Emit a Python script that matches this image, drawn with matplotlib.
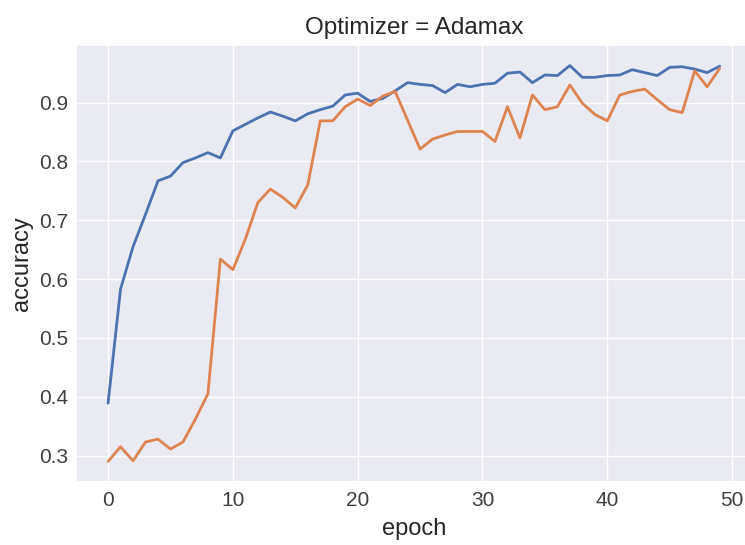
import numpy as np
import matplotlib
matplotlib.use('Agg')
import matplotlib.pyplot as plt

plt.style.use('seaborn-v0_8')
plt.rcParams['font.family'] = ['Liberation Sans', 'DejaVu Sans']

epochs = list(range(50))

acc = [0.389, 0.583, 0.655, 0.710, 0.767, 0.775, 0.798, 0.806, 0.815, 0.806,
       0.852, 0.863, 0.874, 0.884, 0.877, 0.869, 0.881, 0.888, 0.894, 0.913,
       0.916, 0.902, 0.907, 0.920, 0.934, 0.931, 0.929, 0.917, 0.931, 0.927,
       0.931, 0.933, 0.950, 0.952, 0.934, 0.947, 0.946, 0.963, 0.943, 0.943,
       0.946, 0.947, 0.956, 0.951, 0.946, 0.960, 0.961, 0.957, 0.951, 0.962]

val_acc = [0.290, 0.315, 0.291, 0.323, 0.328, 0.311, 0.323, 0.362, 0.405, 0.634,
           0.616, 0.668, 0.730, 0.753, 0.739, 0.721, 0.760, 0.869, 0.869, 0.893,
           0.906, 0.895, 0.911, 0.919, 0.870, 0.821, 0.838, 0.845, 0.851, 0.851,
           0.851, 0.834, 0.893, 0.840, 0.913, 0.888, 0.893, 0.930, 0.899, 0.880,
           0.869, 0.913, 0.919, 0.923, 0.905, 0.888, 0.883, 0.954, 0.927, 0.958]

fig, ax = plt.subplots(figsize=(7.45, 5.45), dpi=100)
fig.subplots_adjust(left=0.104, right=1.007, bottom=0.117, top=0.916)

ax.plot(epochs, acc, lw=2, color='#4C72B0')
ax.plot(epochs, val_acc, lw=2, color='#DD8452')

ax.set_title('Optimizer = Adamax', fontsize=17.5, pad=8.5, color='#262626')
ax.set_xlabel('epoch', fontsize=17, labelpad=6, color='#262626')
ax.set_ylabel('accuracy', fontsize=17, color='#262626')
ax.tick_params(labelsize=15, labelcolor='#404040')

fig.savefig('out.png', dpi=100)
